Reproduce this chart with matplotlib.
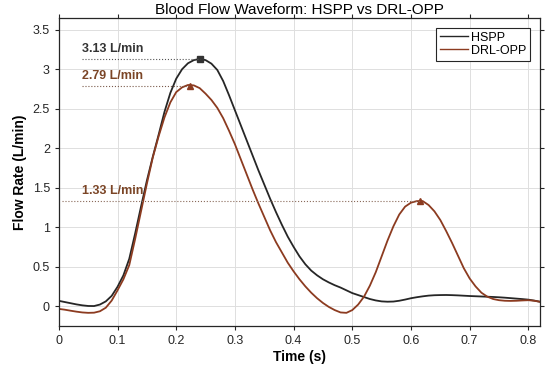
import numpy as np
import matplotlib
matplotlib.use('Agg')
import matplotlib.pyplot as plt
from matplotlib.ticker import FormatStrFormatter

plt.rcParams['font.family'] = ['Liberation Sans', 'DejaVu Sans']

# time axis (s), one value every 0.01 s
t = [round(0.01 * i, 2) for i in range(83)]

hspp = [0.067, 0.052, 0.037, 0.022, 0.010, 0.002, 0.001, 0.020, 0.060, 0.130,
        0.245, 0.39, 0.60, 0.92, 1.26, 1.59, 1.89, 2.17, 2.46, 2.70,
        2.88, 3.00, 3.075, 3.115, 3.13, 3.115, 3.07, 2.99, 2.85, 2.67,
        2.48, 2.29, 2.10, 1.91, 1.72, 1.54, 1.36, 1.19, 1.03, 0.88,
        0.75, 0.63, 0.53, 0.45, 0.39, 0.34, 0.30, 0.265, 0.235, 0.20,
        0.165, 0.14, 0.115, 0.09, 0.072, 0.060, 0.056, 0.058, 0.068, 0.083,
        0.10, 0.113, 0.124, 0.133, 0.138, 0.140, 0.141, 0.139, 0.136, 0.132,
        0.128, 0.125, 0.122, 0.119, 0.116, 0.112, 0.107, 0.101, 0.095, 0.089,
        0.082, 0.070, 0.055]

drl = [-0.035, -0.045, -0.058, -0.070, -0.080, -0.085, -0.083, -0.065, -0.02, 0.07,
       0.20, 0.34, 0.52, 0.85, 1.20, 1.55, 1.88, 2.15, 2.39, 2.58,
       2.71, 2.77, 2.80, 2.795, 2.76, 2.69, 2.61, 2.51, 2.38, 2.22,
       2.05, 1.86, 1.67, 1.48, 1.30, 1.13, 0.96, 0.81, 0.68, 0.55,
       0.44, 0.34, 0.25, 0.17, 0.10, 0.04, -0.01, -0.05, -0.08, -0.085,
       -0.05, 0.02, 0.12, 0.26, 0.43, 0.63, 0.83, 1.01, 1.16, 1.26,
       1.31, 1.33, 1.33, 1.28, 1.20, 1.09, 0.95, 0.80, 0.64, 0.48,
       0.35, 0.25, 0.17, 0.12, 0.09, 0.075, 0.068, 0.066, 0.068, 0.072,
       0.075, 0.068, 0.055]

# marked peaks
hspp_peak_t, hspp_peak = 0.241, 3.13
drl_peaks_t = [0.224, 0.616]
drl_peaks = [2.79, 1.33]

c_black = '#262626'
c_brown = '#8C3B20'
c_brown_txt = '#7B4526'

fig = plt.figure(figsize=(5.5, 3.72), dpi=100)
ax = fig.add_axes([0.107, 0.124, 0.875, 0.828])

ax.plot(t, hspp, color=c_black, lw=1.3, label='HSPP', solid_joinstyle='round')
ax.plot(t, drl, color=c_brown, lw=1.3, label='DRL-OPP', solid_joinstyle='round')

ax.plot(hspp_peak_t, hspp_peak, 's', color='#333333', ms=4)
ax.plot(drl_peaks_t, drl_peaks, '^', color=c_brown, ms=4.5)

# dotted guide lines and peak labels
ax.plot([0.04, hspp_peak_t], [hspp_peak, hspp_peak], ':', color='#555555', lw=0.8)
ax.plot([0.04, drl_peaks_t[0]], [drl_peaks[0], drl_peaks[0]], ':', color='#7a5a4a', lw=0.8)
ax.plot([0.005, drl_peaks_t[1]], [drl_peaks[1], drl_peaks[1]], ':', color='#8a6a5a', lw=0.8)

ax.text(0.04, hspp_peak + 0.05, '%.2f L/min' % hspp_peak, color='#333333',
        fontsize=9, fontweight='bold', va='bottom')
ax.text(0.04, drl_peaks[0] + 0.05, '%.2f L/min' % drl_peaks[0], color=c_brown_txt,
        fontsize=9, fontweight='bold', va='bottom')
ax.text(0.04, drl_peaks[1] + 0.05, '%.2f L/min' % drl_peaks[1], color=c_brown_txt,
        fontsize=9, fontweight='bold', va='bottom')

ax.set_xlim(0, 0.82)
ax.set_ylim(-0.25, 3.65)
ax.set_xticks(np.arange(0, 0.81, 0.1))
ax.set_yticks(np.arange(0, 3.51, 0.5))
ax.xaxis.set_major_formatter(FormatStrFormatter('%g'))
ax.yaxis.set_major_formatter(FormatStrFormatter('%g'))
ax.tick_params(direction='out', length=3, width=0.8, labelsize=9,
               colors='#262626', top=True, right=True)
ax.grid(True, color='#dedede', lw=0.7)
ax.set_axisbelow(True)
for s in ax.spines.values():
    s.set_color('#262626')
    s.set_linewidth(0.9)

ax.set_title('Blood Flow Waveform: HSPP vs DRL-OPP', fontsize=11, pad=3)
ax.set_xlabel('Time (s)', fontsize=10, fontweight='bold', labelpad=2)
ax.set_ylabel('Flow Rate (L/min)', fontsize=10, fontweight='bold', labelpad=4)

leg = ax.legend(loc='upper right', fontsize=9, fancybox=False, framealpha=1,
                edgecolor='#262626', handlelength=2.3, handletextpad=0.2,
                borderpad=0.3, labelspacing=0.1, borderaxespad=0.8)
leg.get_frame().set_linewidth(0.8)
for ln in leg.get_lines():
    ln.set_linewidth(1.0)

fig.savefig('out.png', dpi=100)
